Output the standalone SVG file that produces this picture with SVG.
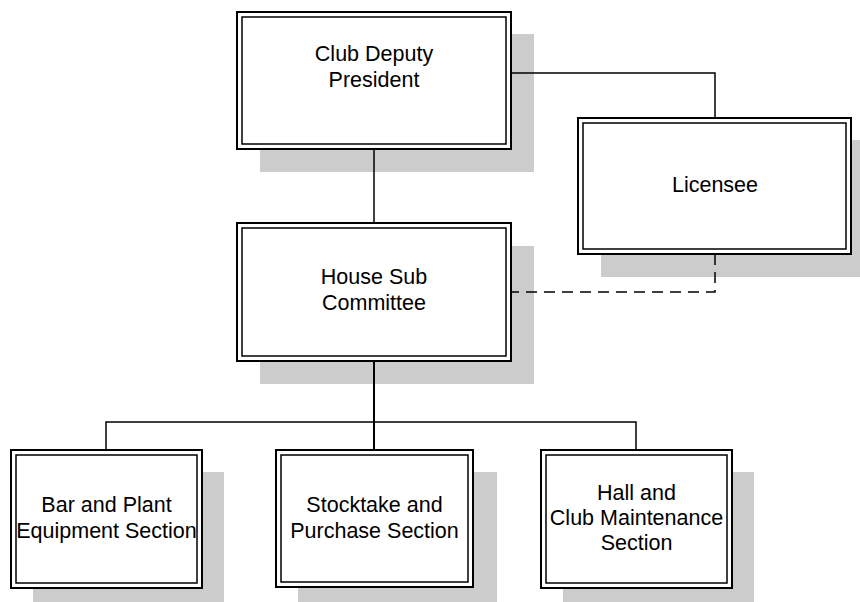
<svg xmlns="http://www.w3.org/2000/svg" width="860" height="602" viewBox="0 0 860 602">
<style>
.shadow{fill:#cccccc;stroke:none}
.outer{fill:#ffffff;stroke:#000000;stroke-width:2}
.inner{fill:none;stroke:#000000;stroke-width:1.5}
.lbl{font-family:"Liberation Sans",Arial,sans-serif;font-size:21.5px;fill:#000000;text-anchor:middle}
.conn{fill:none;stroke:#000000;stroke-width:1.5}
.dash{fill:none;stroke:#000000;stroke-width:1.5;stroke-dasharray:11,7}
</style>
<rect width="860" height="602" fill="#ffffff"/>
<g id="shadows">
<rect class="shadow" x="260" y="34" width="274" height="138"/>
<rect class="shadow" x="601" y="140" width="273" height="137"/>
<rect class="shadow" x="260" y="246" width="274" height="138"/>
<rect class="shadow" x="33" y="472" width="191" height="138"/>
<rect class="shadow" x="298" y="472" width="199" height="138"/>
<rect class="shadow" x="563" y="472" width="191" height="138"/>
</g>
<g id="connectors">
<line class="conn" x1="374" y1="149" x2="374" y2="223"/>
<polyline class="conn" points="511,73 715,73 715,118"/>
<polyline class="dash" points="715,254 715,292 511,292"/>
<line class="conn" x1="374" y1="361" x2="374" y2="450" style="stroke-width:2"/>
<polyline class="conn" points="106,450 106,422 636,422 636,450"/>
</g>
<g id="club-deputy-president">
<rect class="outer" x="237" y="12" width="274" height="137"/>
<rect class="inner" x="242" y="17" width="264" height="127"/>
<text class="lbl" x="374" y="61">Club Deputy</text>
<text class="lbl" x="374" y="87">President</text>
</g>
<g id="licensee">
<rect class="outer" x="578" y="118" width="273" height="136"/>
<rect class="inner" x="583" y="123" width="263" height="126"/>
<text class="lbl" x="715" y="192">Licensee</text>
</g>
<g id="house-sub-committee">
<rect class="outer" x="237" y="223" width="274" height="138"/>
<rect class="inner" x="242" y="228" width="264" height="128"/>
<text class="lbl" x="374" y="284">House Sub</text>
<text class="lbl" x="374" y="310">Committee</text>
</g>
<g id="bar-and-plant">
<rect class="outer" x="11" y="450" width="191" height="138"/>
<rect class="inner" x="16" y="455" width="181" height="128"/>
<text class="lbl" x="106.5" y="512">Bar and Plant</text>
<text class="lbl" x="106.5" y="538">Equipment Section</text>
</g>
<g id="stocktake-and-purchase">
<rect class="outer" x="276" y="450" width="197" height="137"/>
<rect class="inner" x="281" y="455" width="187" height="127"/>
<text class="lbl" x="374.5" y="512">Stocktake and</text>
<text class="lbl" x="374.5" y="538">Purchase Section</text>
</g>
<g id="hall-and-club-maintenance">
<rect class="outer" x="541" y="450" width="191" height="138"/>
<rect class="inner" x="546" y="455" width="181" height="128"/>
<text class="lbl" x="636.5" y="500">Hall and</text>
<text class="lbl" x="636.5" y="525">Club Maintenance</text>
<text class="lbl" x="636.5" y="550">Section</text>
</g>
</svg>
